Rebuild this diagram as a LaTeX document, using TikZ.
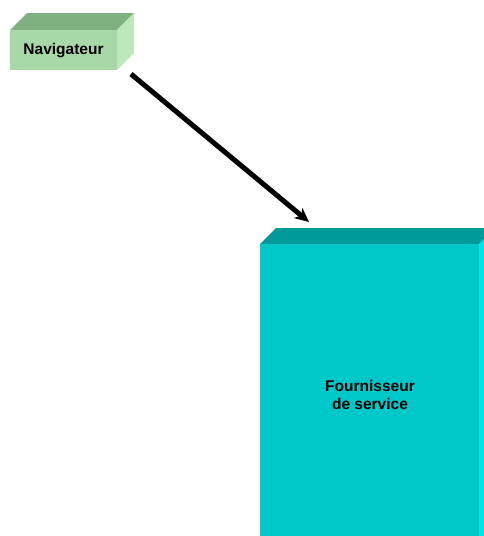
\documentclass[tikz,border=0pt]{standalone}
\usepackage{fontspec}
\setmainfont{Liberation Sans}
\usetikzlibrary{arrows.meta}
\definecolor{navfront}{HTML}{A8D8A8}
\definecolor{navtop}{HTML}{80B080}
\definecolor{navside}{HTML}{BCE8BC}
\definecolor{srvfront}{HTML}{00C8C8}
\definecolor{srvtop}{HTML}{009A9A}
\definecolor{srvside}{HTML}{00E6E6}
\tikzset{
  lbl/.style={font=\bfseries\fontsize{15.5}{18}\selectfont, align=center, inner sep=0pt},
  link/.style={line width=5pt, -{Stealth[length=14pt,width=13pt,inset=4pt]}}
}
\begin{document}
\begin{tikzpicture}[x=1pt, y=-1pt]
\useasboundingbox (0,0) rectangle (484,536);
% browser block
\fill[navtop] (10,30) -- (27,13) -- (134,13) -- (117,30) -- cycle;
\fill[navside] (117,30) -- (134,13) -- (134,53) -- (117,70) -- cycle;
\fill[navfront] (10,30) rectangle (117,70);
\node[lbl] (nav) at (63.5,51) {Navigateur};
% service provider block
\fill[srvtop] (260,244) -- (276,228) -- (500,228) -- (479,244) -- cycle;
\fill[srvside] (479,244) -- (495,228) -- (495,536) -- (479,536) -- cycle;
\fill[srvfront] (260,244) rectangle (479,540);
\node[lbl] (srv) at (370,395) {Fournisseur\\de service};
\coordinate (from) at (131,74);
\coordinate (to) at (309,222);
\draw[link] (from) -- (to);
\end{tikzpicture}
\end{document}
